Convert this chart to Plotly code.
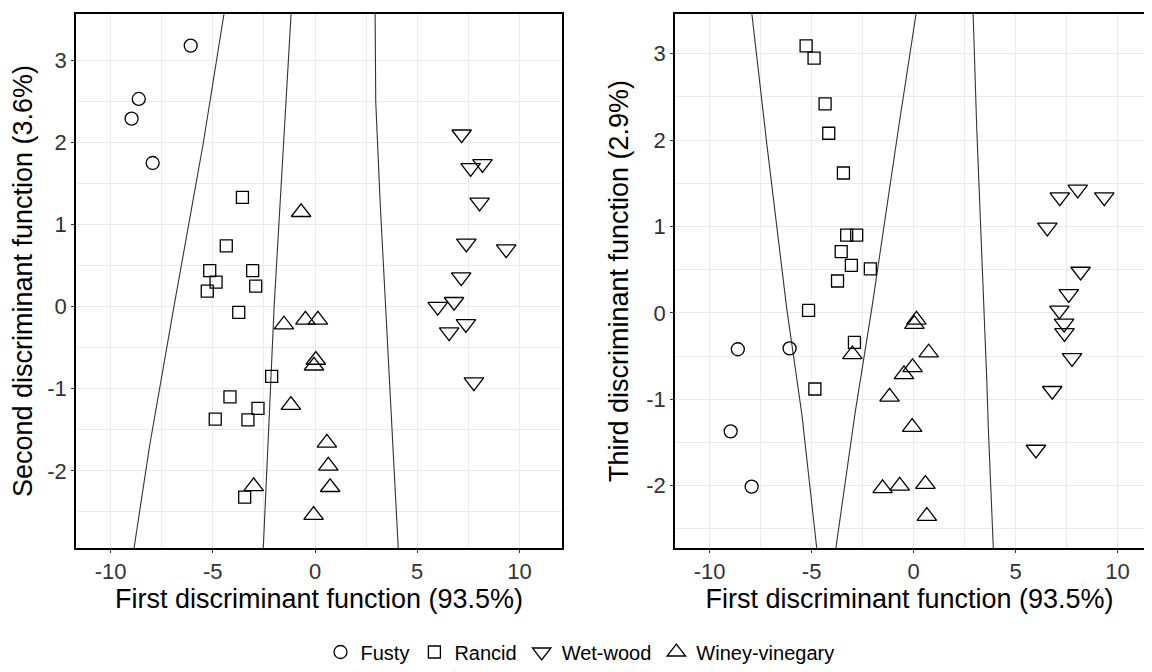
import plotly.graph_objects as go

# ---------------- data (discriminant scores) ----------------
groups = ["Fusty", "Rancid", "Wet-wood", "Winey-vinegary"]

fusty_ld1 = [-6.08, -8.62, -8.97, -7.94]
fusty_ld2 = [3.18, 2.53, 2.29, 1.75]
fusty_ld3 = [-0.41, -0.42, -1.37, -2.01]

rancid_ld1 = [-5.27, -5.15, -4.88, -4.84, -4.34, -4.16, -3.73, -3.55, -3.44, -3.28, -3.05, -2.90, -2.79, -2.12]
rancid_ld2 = [0.19, 0.44, -1.37, 0.30, 0.74, -1.10, -0.07, 1.33, -2.32, -1.38, 0.44, 0.25, -1.24, -0.85]
rancid_ld3 = [3.09, 0.03, 2.95, -0.88, 2.42, 2.08, 0.37, 0.71, 1.62, 0.90, 0.55, -0.34, 0.90, 0.51]

wet_ld1 = [6.00, 6.56, 6.80, 7.15, 7.17, 7.38, 7.40, 7.61, 7.77, 8.05, 8.19, 9.35]
wet_ld2 = [0.00, -0.31, 0.06, 0.36, 2.10, -0.21, 0.77, 1.69, -0.92, 1.27, 1.74, 0.70]
wet_ld3 = [-1.58, 0.99, -0.90, 0.03, 1.34, -0.12, -0.23, 0.22, -0.52, 1.43, 0.48, 1.34]

winey_ld1 = [-3.00, -1.52, -1.18, -0.68, -0.47, -0.07, -0.05, 0.04, 0.14, 0.58, 0.65, 0.74]
winey_ld2 = [-2.19, -0.22, -1.20, 1.15, -0.16, -2.54, -0.72, -0.65, -0.16, -1.66, -1.94, -2.20]
winey_ld3 = [-0.48, -2.03, -0.97, -2.00, -0.71, -1.32, -0.63, -0.13, -0.08, -1.98, -2.35, -0.46]

# classification boundaries (LD1 vs LD2 panel)
bA_x = [-4.45, -5.46, -6.90, -8.10, -8.85]
bA_y = [3.57, 2.00, 0.00, -1.71, -2.94]
bB_x = [-1.17, -1.55, -2.00, -2.23, -2.53]
bB_y = [3.57, 2.00, 0.00, -1.29, -2.94]
bC_x = [2.94, 2.97, 3.18, 3.47, 3.70, 4.07]
bC_y = [3.57, 2.50, 1.30, -0.12, -1.14, -2.94]

# classification boundaries (LD1 vs LD3 panel)
bD_x = [-7.93, -7.20, -6.22, -5.48, -4.75]
bD_y = [3.46, 1.96, 0.05, -1.17, -2.72]
bE_x = [0.12, -0.75, -2.05, -2.87, -3.81]
bE_y = [3.46, 2.12, 0.05, -1.16, -2.72]
bF_x = [2.92, 3.10, 3.59, 3.67, 3.91]
bF_y = [3.46, 2.12, -0.78, -1.36, -2.72]

x_ticks = [-10, -5, 0, 5, 10]
x_ticktext = ["-10", "-5", "0", "5", "10"]
y_ticks = [-2, -1, 0, 1, 2, 3]
y_ticktext = ["-2", "-1", "0", "1", "2", "3"]

x_title = "First discriminant function (93.5%)"
y1_title = "Second discriminant function (3.6%)"
y2_title = "Third discriminant function (2.9%)"

# ---------------- figure ----------------
FONT = "Liberation Sans, Arial, Helvetica, sans-serif"
OFF = 8            # the page body margin
W, H = 1152 - 2 * OFF, 672 - 2 * OFF

def px_x(a, b):
    return [(a - OFF) / W, min(1.0, (b - OFF) / W)]

def px_y(top, bottom):
    return [1 - (bottom - OFF) / H, 1 - (top - OFF) / H]

fig = go.Figure()

line_style = dict(color="#333333", width=1.1)
for bx, by in [(bA_x, bA_y), (bB_x, bB_y), (bC_x, bC_y)]:
    fig.add_trace(go.Scatter(x=bx, y=by, mode="lines", line=line_style,
                             showlegend=False, hoverinfo="skip", xaxis="x", yaxis="y"))
for bx, by in [(bD_x, bD_y), (bE_x, bE_y), (bF_x, bF_y)]:
    fig.add_trace(go.Scatter(x=bx, y=by, mode="lines", line=line_style,
                             showlegend=False, hoverinfo="skip", xaxis="x2", yaxis="y2"))

series = [
    ("Fusty", fusty_ld1, fusty_ld2, fusty_ld3, "circle-open", 13),
    ("Rancid", rancid_ld1, rancid_ld2, rancid_ld3, "square-open", 12),
    ("Wet-wood", wet_ld1, wet_ld2, wet_ld3, "triangle-down-open", 17),
    ("Winey-vinegary", winey_ld1, winey_ld2, winey_ld3, "triangle-up-open", 17),
]
for name, l1, l2, l3, sym, sz in series:
    mk = dict(symbol=sym, size=sz, color="black", line=dict(width=1.3, color="black"))
    fig.add_trace(go.Scatter(x=l1, y=l2, mode="markers", name=name, marker=mk,
                             legendgroup=name, showlegend=True, xaxis="x", yaxis="y"))
    fig.add_trace(go.Scatter(x=l1, y=l3, mode="markers", name=name, marker=mk,
                             legendgroup=name, showlegend=False, xaxis="x2", yaxis="y2"))

grid = "#ebebeb"
common_x = dict(
    tickmode="array", tickvals=x_ticks, ticktext=x_ticktext,
    showgrid=True, gridcolor=grid, gridwidth=1.3,
    minor=dict(tickmode="array", tickvals=[-7.5, -2.5, 2.5, 7.5], showgrid=True,
               gridcolor=grid, gridwidth=0.8, ticklen=0),
    showline=True, linecolor="black", linewidth=1.5, mirror=True,
    ticks="outside", ticklen=3, tickcolor="#333333", tickwidth=1,
    tickfont=dict(family=FONT, size=22, color="#333333"),
    zeroline=False, automargin=False,
    title=dict(text=x_title, font=dict(family=FONT, size=27, color="black"), standoff=6),
)
common_y = dict(
    tickmode="array", tickvals=y_ticks, ticktext=y_ticktext,
    showgrid=True, gridcolor=grid, gridwidth=1.3,
    minor=dict(tickmode="array", tickvals=[-2.5, -1.5, -0.5, 0.5, 1.5, 2.5], showgrid=True,
               gridcolor=grid, gridwidth=0.8, ticklen=0),
    showline=True, linecolor="black", linewidth=1.5,
    ticks="outside", ticklen=3, tickcolor="#333333", tickwidth=1,
    tickfont=dict(family=FONT, size=22, color="#333333"),
    zeroline=False, automargin=False,
)

fig.update_layout(
    width=W, height=H,
    margin=dict(l=0, r=0, t=0, b=0, autoexpand=False),
    paper_bgcolor="white", plot_bgcolor="white",
    font=dict(family=FONT, color="black"),
    xaxis=dict(common_x, domain=px_x(76, 562), range=[-11.69, 12.08], anchor="y"),
    yaxis=dict(common_y, domain=px_y(14, 548), range=[-2.94, 3.565], anchor="x", mirror=True,
               title=dict(text=y1_title, font=dict(family=FONT, size=27, color="black"), standoff=10)),
    xaxis2=dict(common_x, domain=px_x(675, 1144), range=[-11.70, 11.30], anchor="y2"),
    yaxis2=dict(common_y, domain=px_y(14, 548), range=[-2.72, 3.46], anchor="x2", mirror=False,
                title=dict(text=y2_title, font=dict(family=FONT, size=27, color="black"), standoff=10)),
    legend=dict(orientation="h", x=(580 - OFF) / W, xanchor="center",
                y=1 - (652 - OFF) / H, yanchor="middle",
                font=dict(family=FONT, size=20, color="black"), itemwidth=30,
                bgcolor="rgba(0,0,0,0)"),
    showlegend=True,
)

fig.write_html("out.html")
